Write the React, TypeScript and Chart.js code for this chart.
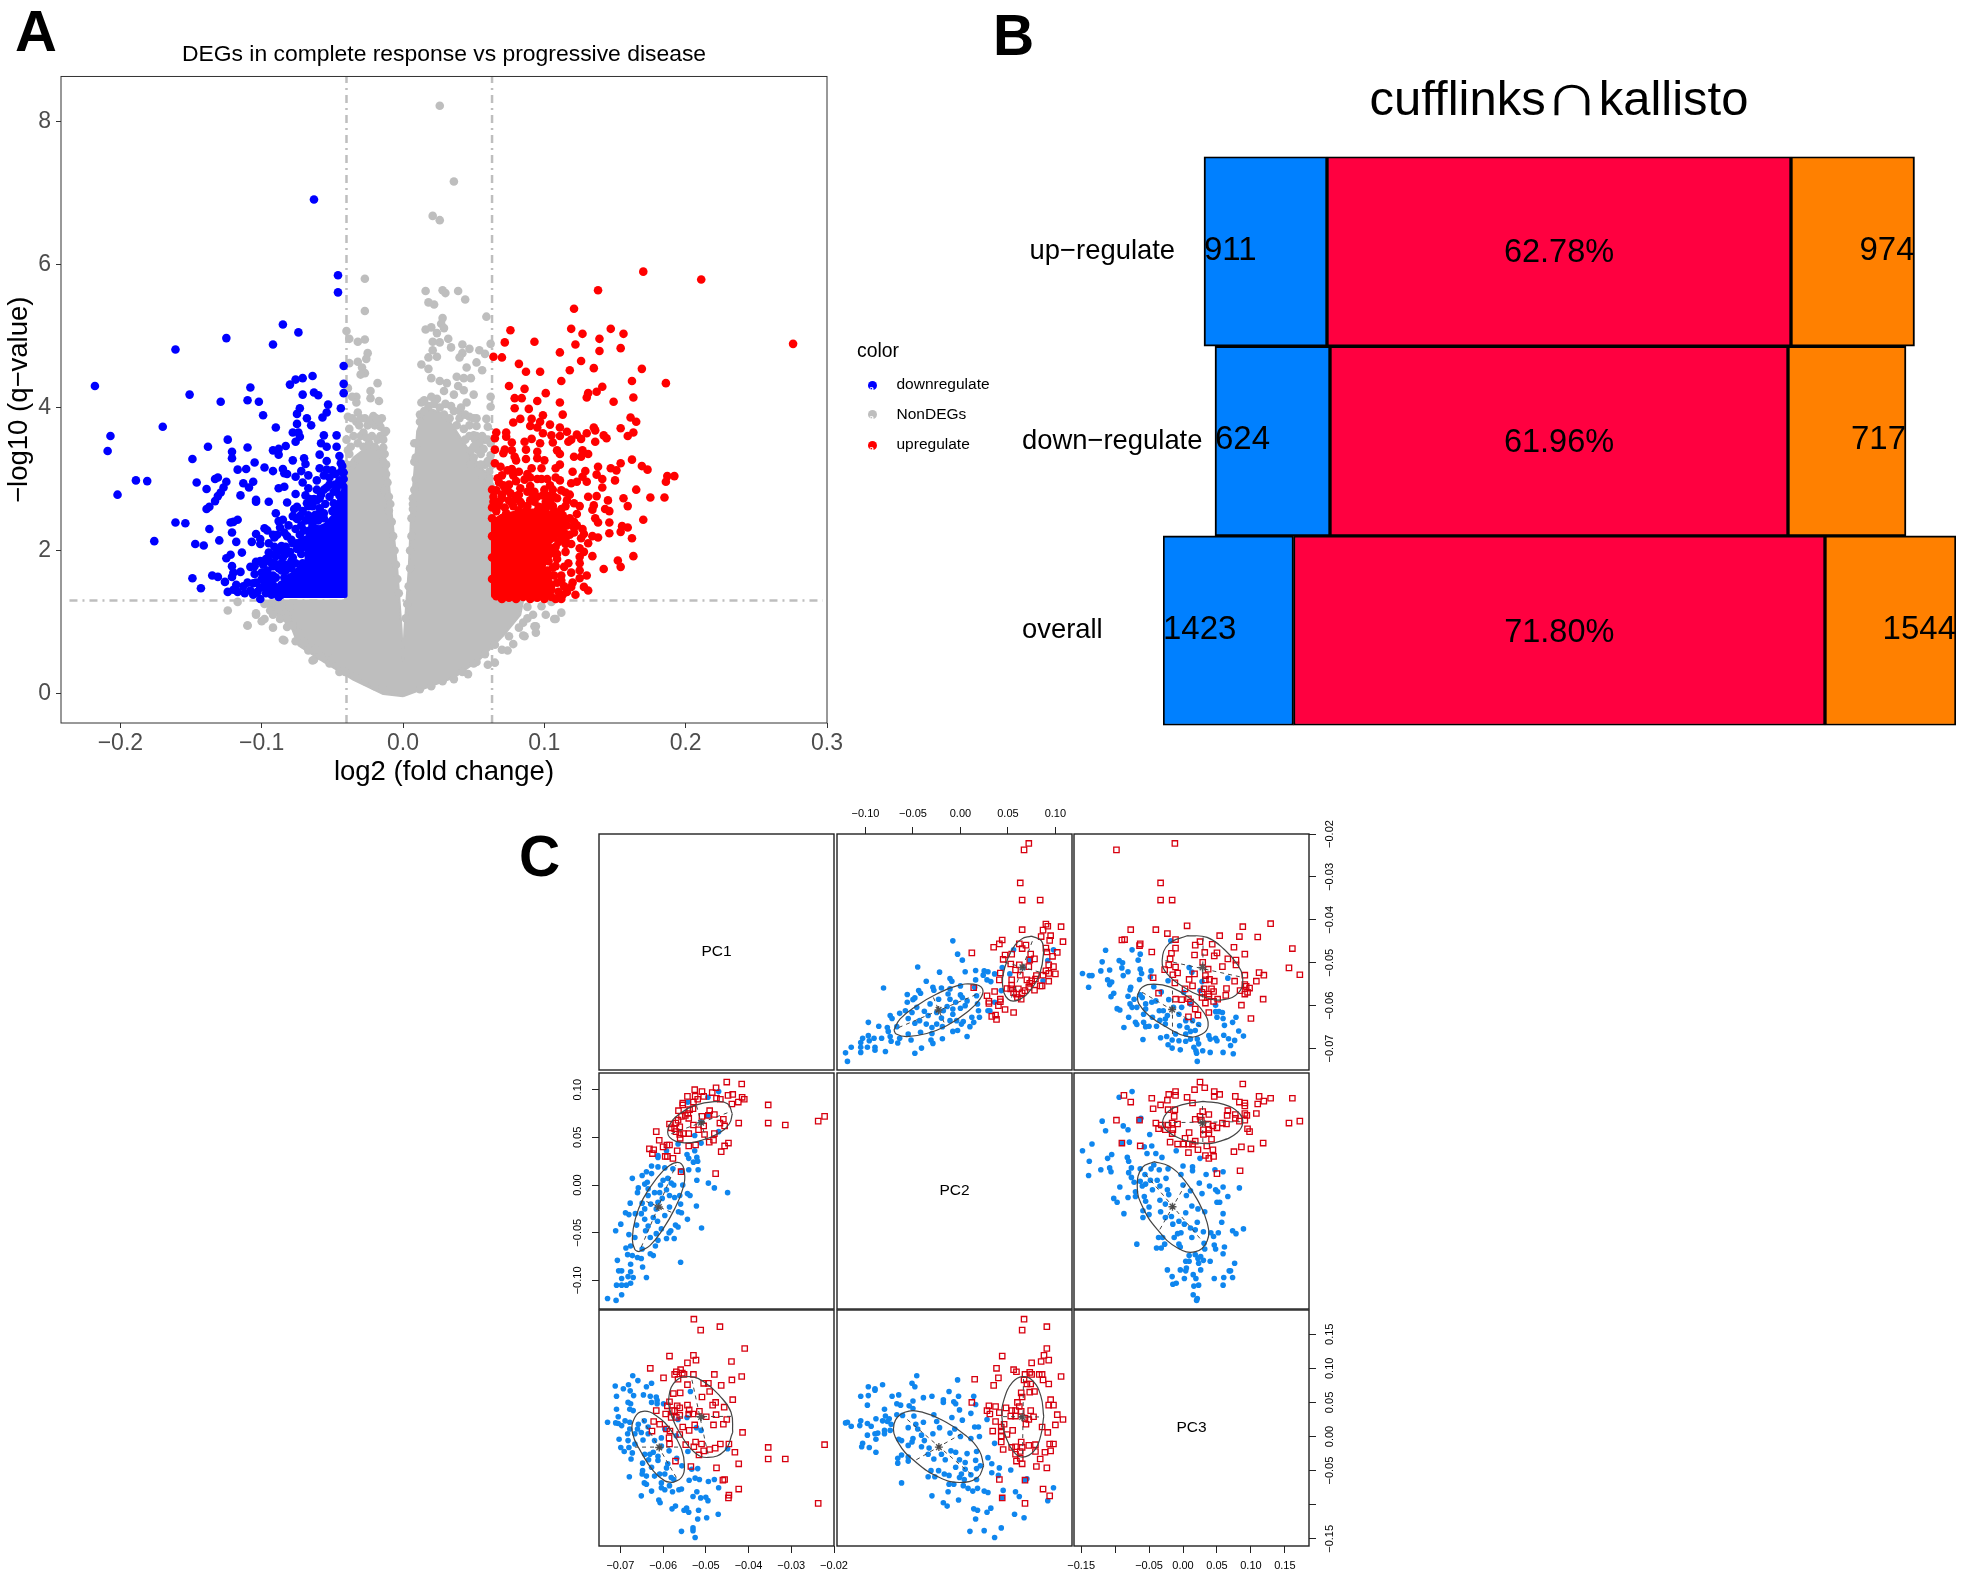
import React, { useEffect, useRef } from 'react';
import { Chart, registerables } from 'chart.js';

Chart.register(...registerables);

const FONT = '"Liberation Sans", Arial, sans-serif';

// ---- panel A: volcano plot, [log2 fold change, -log10 q] ----
const volcanoXTicks = [-0.2, -0.1, 0, 0.1, 0.2, 0.3];
const volcanoYTicks = [0, 2, 4, 6, 8];
const foldCutoffs = [-0.04, 0.063];
const qCutoff = 1.3;

const downregulated = [
  [-.046,5.85],[-.046,5.61],[-.063,6.91],[-.085,5.16],[-.074,5.05],[-.125,4.97],[-.092,4.88],[-.161,4.81],[-.042,4.58],[-.064,4.44],
  [-.071,4.41],[-.076,4.39],[-.080,4.32],[-.042,4.33],[-.218,4.30],[-.108,4.28],[-.151,4.18],[-.042,4.20],[-.071,4.18],[-.063,4.21],
  [-.060,4.17],[-.110,4.10],[-.102,4.08],[-.129,4.08],[-.053,4.04],[-.044,3.99],[-.073,3.99],[-.054,3.93],[-.075,3.91],[-.099,3.89],
  [-.057,3.86],[-.068,3.85],[-.065,3.75],[-.075,3.77],[-.170,3.73],[-.090,3.72],[-.078,3.65],[-.074,3.65],[-.056,3.61],[-.047,3.61],
  [-.207,3.60],[-.124,3.55],[-.073,3.59],[-.076,3.52],[-.058,3.50],[-.083,3.46],[-.138,3.45],[-.110,3.44],[-.054,3.45],[-.047,3.45],
  [-.088,3.42],[-.092,3.40],[-.209,3.39],[-.121,3.38],[-.088,3.34],[-.059,3.34],[-.045,3.32],[-.121,3.29],[-.149,3.28],[-.078,3.26],
  [-.070,3.29],[-.054,3.25],[-.105,3.23],[-.069,3.21],[-.044,3.22],[-.098,3.16],[-.117,3.13],[-.111,3.14],[-.059,3.15],[-.054,3.13],
  [-.092,3.11],[-.085,3.14],[-.072,3.11],[-.084,3.08],[-.082,3.07],[-.042,3.09],[-.067,3.05],[-.076,3.03],[-.048,3.07],[-.133,3.00],
  [-.131,3.02],[-.052,3.02],[-.189,2.98],[-.181,2.97],[-.146,2.95],[-.125,2.96],[-.106,2.96],[-.113,2.94],[-.061,2.98],[-.071,2.95],
  [-.045,2.98],[-.109,2.88],[-.088,2.87],[-.084,2.89],[-.127,2.88],[-.139,2.86],[-.067,2.87],[-.054,2.88],[-.129,2.81],[-.061,2.85],
  [-.202,2.78],[-.076,2.79],[-.069,2.77],[-.115,2.77],[-.131,2.76],[-.045,2.77],[-.059,2.73],[-.133,2.69],[-.104,2.71],[-.104,2.68],
  [-.095,2.68],[-.082,2.67],[-.068,2.66],[-.049,2.66],[-.137,2.61],[-.139,2.58],[-.075,2.61],[-.059,2.59],[-.090,2.52],[-.056,2.52],
  [-.067,2.49],[-.073,2.48],[-.078,2.48],[-.085,2.43],[-.075,2.44],[-.088,2.41],[-.117,2.43],[-.122,2.39],[-.120,2.40],[-.161,2.39],
  [-.154,2.38],[-.098,2.31],[-.137,2.30],[-.121,2.25],[-.104,2.23],[-.089,2.22],[-.101,2.16],[-.091,2.18],[-.130,2.14],[-.176,2.13],
  [-.118,2.12],[-.107,2.12],[-.147,2.09],[-.141,2.07],[-.101,2.09],[-.095,2.10],[-.086,2.06],[-.114,1.97],[-.122,1.94],[-.125,1.89],
  [-.095,1.97],[-.089,1.98],[-.080,1.98],[-.104,1.84],[-.099,1.80],[-.094,1.84],[-.121,1.78],[-.108,1.77],[-.115,1.70],[-.120,1.69],
  [-.105,1.67],[-.100,1.69],[-.135,1.65],[-.131,1.63],[-.149,1.61],[-.121,1.63],[-.092,1.65],[-.086,1.72],[-.126,1.56],[-.118,1.52],
  [-.106,1.54],[-.098,1.50],[-.143,1.47],[-.124,1.42],[-.120,1.45],[-.112,1.40],[-.108,1.44],[-.092,1.45],[-.101,1.32],[-.086,1.38],
  [-.080,1.42],[-.078,2.10],[-.073,2.22],[-.070,2.28],[-.078,1.90],[-.085,1.90],[-.082,1.80],[-.088,1.75],[-.090,1.62],[-.094,1.55],
  [-.096,1.45],[-.086,1.52],[-.080,1.62],[-.076,1.82],[-.072,1.95],[-.070,2.05],[-.064,2.35],[-.060,2.42],[-.056,2.45],[-.050,2.55],
  [-.046,2.62],[-.058,2.52],[-.062,2.50],[-.052,2.75],[-.047,2.86],[-.043,2.92],[-.049,2.82],[-.055,2.65],[-.042,3.00],[-.043,2.72],
  [-.064,2.62],[-.061,2.30],[-.082,1.45],[-.103,1.42],[-.097,1.40],[-.093,1.38],[-.088,1.35],[-.106,1.38],[-.100,1.60],[-.096,1.72],
  [-.090,1.92],[-.092,1.78],[-.084,1.62],[-.075,2.02],[-.069,2.15],[-.066,2.28],[-.082,2.20],[-.076,2.30],
  [-.091,2.05],[-.087,2.00],[-.083,1.95],[-.079,1.85],[-.083,2.05],[-.079,2.15],[-.084,2.25],[-.072,2.35],[-.069,2.42],[-.066,2.42],
  [-.063,2.45],[-.072,2.12],[-.067,2.05],[-.066,1.95],[-.071,1.82],[-.073,1.72],[-.078,1.62],[-.082,1.55],[-.088,1.48],[-.092,1.52],
  [-.096,1.62],[-.098,1.55],[-.101,1.48],[-.104,1.55],[-.110,1.55],[-.113,1.50],[-.117,1.42],[-.105,1.78],[-.101,1.85],[-.097,1.88],
  [-.094,1.95],[-.091,1.82],[-.086,1.82],[-.083,1.72],[-.079,1.75],[-.075,2.10],[-.067,2.62],[-.063,2.72],[-.058,2.78],[-.056,2.85],
  [-.052,2.92],[-.048,2.92],[-.044,3.10],[-.043,3.18],[-.050,3.12],[-.056,3.05],[-.061,2.70],[-.066,2.72],[-.071,2.55],[-.077,2.58],
  [-.081,2.35],[-.087,2.32],[-.092,2.22],[-.096,2.28],
];
const downregulatedMass = [
  [-.041,1.37],[-.090,1.37],[-.085,1.55],[-.075,1.72],[-.068,1.85],[-.067,2.25],[-.055,2.35],[-.048,2.5],[-.045,2.7],[-.041,2.9],[-.041,1.37],
];

const upregulated = [
  [.170,5.90],[.211,5.79],[.138,5.64],[.121,5.38],[.119,5.10],[.076,5.08],[.127,5.03],[.147,5.10],[.156,5.03],[.139,4.96],
  [.072,4.91],[.093,4.92],[.122,4.88],[.276,4.89],[.139,4.79],[.154,4.83],[.111,4.77],[.064,4.71],[.070,4.70],[.126,4.65],
  [.082,4.61],[.135,4.55],[.118,4.52],[.087,4.50],[.097,4.50],[.169,4.54],[.112,4.37],[.162,4.37],[.186,4.34],[.075,4.30],
  [.086,4.26],[.141,4.29],[.137,4.22],[.101,4.20],[.131,4.20],[.130,4.14],[.163,4.14],[.079,4.13],[.084,4.13],[.095,4.09],
  [.111,4.07],[.149,4.08],[.079,3.99],[.089,3.98],[.113,3.90],[.099,3.89],[.161,3.86],[.091,3.84],[.165,3.80],[.078,3.79],
  [.083,3.84],[.097,3.80],[.104,3.76],[.090,3.74],[.135,3.72],[.154,3.71],[.111,3.72],[.095,3.72],[.136,3.68],[.066,3.65],
  [.073,3.65],[.116,3.66],[.163,3.65],[.099,3.64],[.130,3.64],[.123,3.62],[.111,3.60],[.105,3.61],[.159,3.60],[.065,3.57],
  [.073,3.59],[.091,3.56],[.142,3.61],[.144,3.57],[.119,3.55],[.126,3.56],[.117,3.52],[.077,3.51],[.086,3.52],[.097,3.50],
  [.106,3.51],[.136,3.52],[.065,3.41],[.072,3.41],[.087,3.41],[.077,3.40],[.109,3.40],[.071,3.36],[.095,3.38],[.127,3.40],
  [.111,3.35],[.131,3.35],[.079,3.31],[.121,3.31],[.126,3.31],[.095,3.29],[.087,3.28],[.100,3.26],[.080,3.26],[.162,3.27],
  [.154,3.22],[.111,3.20],[.065,3.22],[.069,3.17],[.169,3.18],[.108,3.15],[.098,3.15],[.091,3.15],[.138,3.17],[.147,3.15],
  [.173,3.13],[.077,3.14],[.074,3.12],[.151,3.12],[.120,3.10],[.129,3.11],[.088,3.07],[.187,3.04],[.192,3.04],[.137,3.06],
  [.127,3.03],[.067,3.01],[.098,3.00],[.086,2.99],[.111,2.98],[.150,2.98],[.141,3.00],[.080,2.97],[.186,2.96],[.130,2.96],
  [.119,2.94],[.123,2.96],[.104,2.91],[.090,2.90],[.083,2.87],[.071,2.91],[.141,2.88],[.112,2.84],[.066,2.84],[.074,2.84],
  [.165,2.85],[.093,2.82],[.115,2.81],[.099,2.77],[.175,2.74],[.185,2.74],[.131,2.75],[.137,2.76],[.156,2.73],[.080,2.76],
  [.070,2.73],[.109,2.73],[.145,2.70],[.090,2.70],[.116,2.70],[.064,2.68],[.104,2.68],[.077,2.66],[.084,2.65],[.121,2.66],
  [.125,2.62],[.159,2.62],[.135,2.63],[.143,2.58],[.096,2.61],[.146,2.55],[.134,2.57],[.123,2.51],[.136,2.45],[.170,2.43],
  [.113,2.49],[.138,2.39],[.146,2.39],[.121,2.40],[.155,2.34],[.159,2.32],[.154,2.26],[.146,2.24],[.121,2.25],[.111,2.26],
  [.128,2.23],[.134,2.20],[.138,2.18],[.162,2.17],[.126,2.17],[.131,2.10],[.115,2.09],[.119,2.09],[.125,2.03],[.115,1.98],
  [.128,1.98],[.105,2.03],[.108,1.95],[.125,1.91],[.134,1.92],[.163,1.92],[.152,1.86],[.154,1.77],[.125,1.82],[.117,1.82],
  [.114,1.77],[.106,1.76],[.142,1.74],[.099,1.89],[.125,1.72],[.119,1.69],[.130,1.65],[.112,1.58],[.125,1.61],[.104,1.65],
  [.119,1.49],[.128,1.49],[.131,1.44],[.105,1.45],[.105,1.35],[.099,1.38],[.066,2.55],[.072,2.60],[.078,2.62],[.083,2.68],
  [.088,2.62],[.093,2.68],[.098,2.60],[.102,2.62],[.107,2.55],[.112,2.58],[.118,2.45],[.121,2.32],[.109,2.42],[.114,2.25],
  [.106,2.18],[.110,2.12],[.104,1.95],[.108,1.78],[.112,1.65],[.109,1.55],[.110,1.42],[.113,1.38],[.101,1.92],[.097,2.05],
  [.067,2.62],[.073,2.52],[.080,2.72],[.092,2.75],[.103,2.76],[.070,2.78],[.063,2.45],[.063,2.60],[.063,2.20],[.063,1.90],
  [.063,1.60],[.109,1.95],[.066,1.36],[.075,1.34],[.085,1.35],[.095,1.34],
  [.064,2.75],[.068,2.68],[.075,2.70],[.082,2.56],[.087,2.55],[.095,2.55],[.101,2.68],[.106,2.62],[.111,2.50],[.116,2.35],
  [.118,2.22],[.123,2.35],[.127,2.30],[.112,2.18],[.106,2.28],[.115,2.15],[.108,2.05],[.109,1.88],[.103,1.85],[.102,1.72],
  [.107,1.65],[.114,1.50],[.116,1.42],[.120,1.55],[.122,1.38],[.112,1.32],[.108,1.32],[.100,1.32],[.090,1.32],[.080,1.32],
  [.070,1.32],[.072,2.88],[.076,2.80],[.082,2.78],[.088,2.82],[.095,2.75],[.100,2.85],[.107,2.75],[.115,2.62],[.068,2.95],
  [.075,2.92],[.063,2.85],[.070,3.05],[.078,3.05],[.082,3.10],[.090,3.02],[.095,3.00],[.102,3.00],[.106,2.85],[.108,3.02],[.118,2.78],
];
const upregulatedMass = [
  [.064,1.37],[.104,1.37],[.106,1.5],[.099,1.75],[.103,2.1],[.113,2.3],[.115,2.45],[.100,2.55],[.085,2.55],[.070,2.48],[.064,2.40],[.064,1.37],
];

const nonDegs = [
  [.026,8.22],[.036,7.16],[.021,6.68],[.026,6.62],[-.027,5.80],[.016,5.63],[.028,5.64],[.030,5.60],[.039,5.63],[.044,5.51],
  [.018,5.47],[.022,5.44],[-.027,5.35],[.028,5.25],[.059,5.27],[.027,5.17],[.016,5.09],[-.040,5.07],[.020,5.12],[.029,5.11],
  [-.038,4.96],[-.032,4.92],[-.027,4.95],[.024,5.04],[.032,4.96],[.021,4.92],[.026,4.91],[.034,4.84],[.042,4.88],[.062,4.89],
  [.047,4.82],[.042,4.76],[.054,4.80],[.058,4.75],[-.025,4.76],[.021,4.80],[.024,4.71],[.018,4.70],[.040,4.70],[-.026,4.68],
  [-.032,4.64],[-.038,4.62],[.013,4.60],[.045,4.56],[.052,4.63],[.056,4.52],[-.029,4.56],[.018,4.54],[-.027,4.48],[-.030,4.46],
  [.020,4.41],[.038,4.43],[.043,4.41],[.048,4.41],[.026,4.37],[.031,4.34],[-.018,4.34],[-.039,4.27],[.039,4.30],[-.023,4.23],
  [.043,4.24],[.050,4.18],[.029,4.23],[-.033,4.15],[-.036,4.15],[-.023,4.13],[-.017,4.09],[.062,4.15],[.036,4.18],[.062,4.01],
  [-.033,4.07],[-.039,3.87],[.013,4.07],[.045,4.07],[.012,3.90],[.052,3.85],[.059,3.84],[-.015,3.85],[-.021,3.88],[-.032,3.93],
  [-.012,3.67],[.060,3.73],[.052,3.74],[.047,3.87],[.040,3.95],[-.016,3.73],[-.014,3.44],[.058,3.55],[.050,3.61],[-.014,3.24],
  [.062,3.33],[.053,3.41],[.008,3.24],[.061,3.10],[-.012,3.07],[.008,3.50],[-.010,2.56],[.007,2.58],[.007,2.73],[-.013,2.84],
  [-.110,.95],[-.104,1.12],[-.098,1.04],[-.092,.92],[-.085,.75],[-.076,.73],[-.063,.47],[-.067,.60],[.092,1.10],[.093,.94],
  [.101,1.10],[.108,1.04],[.086,.80],[.078,.69],[.070,.61],[.065,.43],[.060,.40],[.046,.27],[.052,.44],[.085,.99],
  [-.087,1.04],[-.082,.93],[-.100,1.01],[-.094,1.16],[-.080,1.21],[.088,1.21],[-.052,.42],[-.045,.30],[.036,.20],[.112,1.13],
  [.107,1.04],[.094,.94],[-.124,1.16],[-.110,.95],[-.117,1.28],[-.104,1.10],[-.084,.74],[-.064,.46],[.074,.60],[.094,.85],
  [.085,.81],
  [-.038,3.7],[-.035,3.6],[-.033,3.8],[-.030,3.85],[-.028,3.65],[-.025,3.75],[-.022,3.6],[-.020,3.75],[-.018,3.55],[-.016,3.6],
  [-.037,3.45],[-.032,3.5],[-.028,3.45],[-.024,3.5],[-.020,3.45],[-.013,3.35],[-.012,3.2],[-.011,2.95],[-.010,2.75],[-.009,2.65],
  [-.008,2.4],[-.007,2.2],[-.006,2.0],[-.005,1.8],[-.004,1.6],[-.003,1.4],[-.038,3.35],[-.034,3.25],
  [.012,3.8],[.015,3.95],[.018,4.02],[.022,4.05],[.026,4.0],[.029,3.9],[.033,3.85],[.036,3.95],[.040,3.85],[.043,3.7],
  [.047,3.6],[.044,3.9],[.050,3.45],[.055,3.35],[.058,3.2],[.061,3.0],[.056,3.05],[.059,2.9],[.048,3.2],[.052,3.6],
  [.056,3.6],[.010,3.5],[.009,3.3],[.009,3.0],[.008,2.85],[.007,2.65],[.006,2.45],[.006,2.2],[.005,2.0],[.005,1.75],
  [.004,1.5],[.003,1.25],[.002,1.05],
  [-.098,1.25],[-.092,1.1],[-.088,1.2],[-.082,1.05],[-.078,.95],[-.074,.85],[-.07,.72],[-.062,.62],[-.058,.52],[-.05,.48],
  [-.041,.30],[-.034,.24],[-.027,.17],[-.02,.10],[-.012,.04],[.012,.06],[.02,.1],[.028,.17],[.042,.3],[.05,.42],
  [.058,.55],[.065,.68],[.075,.8],[.082,.92],[.088,1.05],[.098,1.22],[.105,1.28],
  [.044,3.55],[.048,3.4],[.051,3.55],[.054,3.5],[.057,3.42],[.06,3.25],[.047,3.75],[.05,3.85],[.038,3.75],[.041,4.0],
  [.034,4.02],[.03,4.05],[.024,4.12],[.02,4.15],[.015,4.1],[.05,3.3],[.055,3.2],[.06,3.55],[.062,3.5],[.063,3.2],[.062,2.9],
  [-.036,3.85],[-.031,3.75],[-.027,3.85],[-.023,3.82],[-.019,3.85],[-.017,3.8],[-.013,3.65],[-.014,3.55],[-.03,3.6],[-.026,3.58],
  [-.04,3.55],[-.039,3.4],[-.036,3.2],[-.04,3.2],
];
const nonDegsMass = [
  [0,-.04],[.036,.22],[.054,.47],[.071,.81],[.083,1.10],[.085,1.30],[.062,1.30],[.062,3.0],[.050,3.3],[.040,3.6],
  [.030,3.9],[.017,4.0],[.010,3.67],[.008,3.10],[.006,2.64],[.004,1.73],[.001,.9],[0,.45],[-.001,.9],[-.004,1.73],
  [-.008,2.53],[-.011,3.15],[-.014,3.4],[-.022,3.5],[-.035,3.3],[-.041,3.0],[-.041,1.30],[-.101,1.30],[-.079,.93],[-.074,.67],
  [-.056,.44],[-.035,.19],[-.014,-.01],[0,-.04],
];

// ---- panel B: overlap bars, spans have no axis of their own ----
const overlapCategories = ['up−regulate', 'down−regulate', 'overall'];
const cufflinksOnly = [[-355.5, -232.5], [-344.5, -229.5], [-396.5, -266]];
const shared = [[-232.5, 231.5], [-229.5, 228.5], [-266, 265.5]];
const kallistoOnly = [[231.5, 355], [228.5, 346.5], [265.5, 396.5]];
const cufflinksCounts = ['911', '624', '1423'];
const kallistoCounts = ['974', '717', '1544'];
const sharedPercents = ['62.78%', '61.96%', '71.80%'];

// ---- panel C: PCA pairs ----
const pcNames = ['PC1', 'PC2', 'PC3'];
const pc1Ticks = [-0.07, -0.06, -0.05, -0.04, -0.03, -0.02];
const pc2Ticks = [-0.1, -0.05, 0, 0.05, 0.1];
const pc3Ticks = [-0.15, -0.1, -0.05, 0, 0.05, 0.1, 0.15];

// [PC2, PC1]
const pc2pc1Blue = [
  [-.008,-.0449],[-.003,-.0480],[.002,-.0494],[-.045,-.0510],[.005,-.0521],[.016,-.0518],[-.022,-.0522],[.025,-.0519],[.029,-.0521],[.036,-.0526],
  [.024,-.0529],[-.011,-.0537],[-.036,-.0543],[-.009,-.0543],[.016,-.0540],[.028,-.0540],[.032,-.0544],[-.081,-.0559],[-.044,-.0565],[-.029,-.0557],
  [-.020,-.0559],[-.011,-.0561],[0,-.0554],[.015,-.0557],[-.056,-.0574],[-.042,-.0571],[-.028,-.0564],[-.013,-.0573],[0,-.0575],[-.048,-.0582],
  [-.011,-.0585],[.002,-.0581],[.017,-.0577],[-.050,-.0586],[-.056,-.0592],[-.023,-.0585],[-.005,-.0592],[.007,-.0589],[.018,-.0596],[-.032,-.0596],
  [-.046,-.0604],[-.038,-.0613],[-.014,-.0602],[0,-.0606],[.029,-.0612],[.019,-.0612],[-.064,-.0618],[-.051,-.0616],[-.025,-.0616],[-.008,-.0620],
  [-.074,-.0623],[-.072,-.0630],[-.055,-.0630],[-.034,-.0623],[-.020,-.0629],[.012,-.0627],[.020,-.0627],[.003,-.0637],[-.097,-.0639],[-.048,-.0641],
  [-.036,-.0643],[-.011,-.0635],[.014,-.0639],[-.086,-.0648],[-.077,-.0651],[-.067,-.0649],[-.030,-.0651],[-.019,-.0649],[.010,-.0649],[-.008,-.0660],
  [-.003,-.0658],[-.076,-.0660],[-.042,-.0662],[-.055,-.0666],[-.030,-.0665],[.007,-.0672],[-.097,-.0670],[-.074,-.0672],[-.103,-.0676],[-.091,-.0676],
  [-.083,-.0676],[-.064,-.0676],[-.052,-.0680],[-.031,-.0680],[-.019,-.0677],[-.096,-.0682],[-.073,-.0683],[-.066,-.0687],[-.105,-.0686],[-.029,-.0688],
  [-.115,-.0697],[-.090,-.0697],[-.105,-.0697],[-.098,-.0697],[-.041,-.0699],[-.090,-.0704],[-.079,-.0707],[-.121,-.0710],[-.105,-.0709],[-.048,-.0711],
  [-.119,-.0730],[.044,-.0511],[.056,-.0470],[.098,-.0470],[.092,-.0495],[.073,-.0495],[.052,-.0526],[.066,-.0511],[.036,-.0592],[.031,-.0612],
  [.043,-.0565],[.087,-.0542],[-.018,-.0612],[-.008,-.0608],[.005,-.0600],[-.004,-.0635],[.001,-.0643],[-.025,-.0643],[-.043,-.0635],[-.058,-.0612],
];
const pc2pc1Red = [
  [.072,-.0222],[.067,-.0237],[.063,-.0314],[.065,-.0354],[.084,-.0354],[.065,-.0423],[.090,-.0410],[.092,-.0415],[.106,-.0416],[.087,-.0424],
  [.095,-.0437],[.085,-.0439],[.094,-.0448],[.108,-.0451],[.044,-.0447],[.041,-.0456],[.035,-.0464],[.062,-.0456],[.069,-.0459],[.065,-.0467],
  [.090,-.0466],[.012,-.0477],[.054,-.0480],[.047,-.0482],[.091,-.0475],[.102,-.0476],[.097,-.0485],[.074,-.0480],[.045,-.0492],[.078,-.0491],
  [.073,-.0494],[.053,-.0503],[.062,-.0505],[.072,-.0509],[.093,-.0505],[.098,-.0509],[.058,-.0517],[.090,-.0519],[.042,-.0524],[.063,-.0529],
  [.100,-.0526],[.093,-.0525],[.087,-.0529],[.080,-.0530],[.041,-.0540],[.054,-.0540],[.070,-.0540],[.075,-.0542],[.079,-.0538],[.093,-.0543],
  [.084,-.0554],[.086,-.0554],[.054,-.0552],[.073,-.0548],[.049,-.0560],[.053,-.0561],[.014,-.0558],[.061,-.0561],[.072,-.0557],[.078,-.0564],
  [.036,-.0567],[.028,-.0577],[.056,-.0570],[.059,-.0573],[.065,-.0570],[.068,-.0565],[.060,-.0581],[.064,-.0585],[.030,-.0590],[.042,-.0585],
  [.042,-.0591],[.030,-.0595],[.040,-.0600],[.047,-.0609],[.056,-.0616],[.033,-.0625],[.037,-.0622],[.038,-.0632],
];
const pc2pc1BlueEllipse = [
  [-.070,-.0657],[-.0635,-.0631],[-.046,-.0600],[-.025,-.0573],[-.004,-.0554],[.0135,-.0550],[.0233,-.0561],[.0205,-.0585],[.0065,-.0616],[-.0145,-.0647],[-.0355,-.0665],[-.0565,-.0672],[-.0677,-.0666],[-.070,-.0657],
];
const pc2pc1RedEllipse = [
  [.0748,-.0438],[.0853,-.0449],[.0874,-.0480],[.0835,-.0526],[.0748,-.0561],[.0618,-.0586],[.0503,-.0585],[.0443,-.0550],[.0468,-.0511],[.0538,-.0472],[.0643,-.0445],[.0748,-.0438],
];
const pc2pc1Axes = [
  [[-.065,-.0651],[.021,-.0570]],[[-.0285,-.0581],[-.0173,-.0639]],
  [[.0538,-.0581],[.0765,-.0445]],[[.0468,-.0499],[.0835,-.0522]],
];
const pc2pc1Centers = [[-.023,-.0610],[.0653,-.0511]];

// [PC3, PC1]
const pc3pc1Blue = [
  [-.114,-.0471],[-.075,-.0470],[-.063,-.0480],[-.066,-.0494],[-.119,-.0498],[-.094,-.0495],[-.089,-.0500],[-.090,-.0512],[-.063,-.0515],[-.121,-.0519],
  [-.108,-.0517],[-.081,-.0521],[-.148,-.0525],[-.138,-.0530],[-.134,-.0530],[-.088,-.0530],[-.061,-.0525],[-.047,-.0519],[-.111,-.0540],[-.105,-.0545],
  [-.108,-.0551],[-.064,-.0539],[-.048,-.0533],[-.139,-.0557],[-.077,-.0557],[-.078,-.0563],[-.043,-.0556],[-.022,-.0542],[-.102,-.0571],[-.106,-.0579],
  [-.081,-.0578],[-.032,-.0568],[-.018,-.0449],[.009,-.0511],[.013,-.0522],[.028,-.0544],[.066,-.0536],[-.063,-.0575],[-.072,-.0585],[-.040,-.0589],
  [-.021,-.0586],[-.060,-.0581],[-.078,-.0596],[-.055,-.0596],[-.046,-.0592],[.001,-.0569],[.025,-.0565],[-.097,-.0607],[-.093,-.0610],[-.075,-.0604],
  [-.068,-.0604],[-.055,-.0608],[-.035,-.0612],[-.029,-.0612],[-.014,-.0604],[-.002,-.0604],[.011,-.0596],[.048,-.0599],[-.058,-.0620],[-.080,-.0627],
  [-.045,-.0627],[-.023,-.0623],[-.006,-.0620],[.048,-.0614],[.053,-.0614],[.058,-.0616],[-.034,-.0634],[-.070,-.0639],[-.058,-.0639],[-.026,-.0631],
  [.004,-.0635],[.014,-.0635],[.050,-.0627],[.059,-.0630],[.078,-.0627],[-.068,-.0644],[-.050,-.0648],[-.039,-.0648],[-.026,-.0643],[-.005,-.0647],
  [.023,-.0644],[-.087,-.0651],[-.055,-.0649],[.006,-.0651],[.061,-.0646],[.073,-.0639],[.011,-.0660],[.018,-.0658],[.082,-.0659],[-.011,-.0666],
  [.004,-.0666],[.038,-.0670],[.060,-.0669],[-.059,-.0679],[-.033,-.0675],[-.024,-.0672],[-.016,-.0680],[-.006,-.0682],[.004,-.0683],[.011,-.0678],
  [.021,-.0678],[.040,-.0678],[.048,-.0676],[.050,-.0682],[.067,-.0677],[.076,-.0681],[.089,-.0671],[-.022,-.0691],[-.016,-.0699],[-.004,-.0703],
  [.016,-.0697],[.023,-.0689],[.070,-.0693],[.019,-.0705],[.029,-.0705],[.040,-.0709],[.059,-.0709],[.074,-.0712],[.020,-.0711],[.021,-.0730],
];
const pc3pc1Red = [
  [-.012,-.0222],[-.098,-.0237],[-.033,-.0314],[-.033,-.0354],[-.016,-.0354],[.129,-.0409],[.006,-.0414],[.088,-.0416],[-.077,-.0423],[-.040,-.0423],
  [-.023,-.0432],[.054,-.0437],[.083,-.0439],[.110,-.0440],[-.090,-.0447],[-.086,-.0446],[-.011,-.0446],[.025,-.0451],[-.063,-.0456],[-.064,-.0460],
  [.018,-.0459],[.043,-.0457],[.161,-.0467],[-.011,-.0466],[.075,-.0464],[-.046,-.0475],[-.017,-.0478],[.032,-.0476],[.050,-.0477],[.017,-.0482],
  [.046,-.0484],[.091,-.0480],[-.019,-.0491],[.066,-.0491],[.078,-.0494],[-.021,-.0505],[-.011,-.0510],[.029,-.0499],[.058,-.0509],[.078,-.0505],
  [.037,-.0515],[.156,-.0512],[-.027,-.0516],[.172,-.0528],[-.008,-.0524],[-.015,-.0528],[.017,-.0526],[.112,-.0523],[.119,-.0529],[.091,-.0529],
  [-.044,-.0535],[.033,-.0530],[.009,-.0539],[.033,-.0540],[.039,-.0539],[.046,-.0543],[.076,-.0543],[.108,-.0543],[-.012,-.0547],[.014,-.0554],
  [.091,-.0551],[.093,-.0555],[.098,-.0559],[.003,-.0561],[.064,-.0560],[-.036,-.0571],[.031,-.0561],[.042,-.0561],[.084,-.0565],[.095,-.0569],
  [.091,-.0573],[.028,-.0569],[.038,-.0573],[.045,-.0567],[.063,-.0576],[.028,-.0581],[.038,-.0579],[-.011,-.0585],[-.002,-.0586],[.008,-.0584],
  [.051,-.0585],[.118,-.0585],[.011,-.0592],[.033,-.0594],[.045,-.0590],[.086,-.0599],[.018,-.0608],[.038,-.0616],[.022,-.0622],[.008,-.0626],[.100,-.0630],
];
const pc3pc1BlueEllipse = [
  [-.0674,-.0577],[-.0601,-.0557],[-.0429,-.0550],[-.0184,-.0557],[.0086,-.0581],[.0306,-.0616],[.0370,-.0647],[.0282,-.0666],[.0061,-.0672],[-.0233,-.0651],[-.0503,-.0623],[-.0650,-.0596],[-.0674,-.0577],
];
const pc3pc1RedEllipse = [
  [.0061,-.0437],[.0355,-.0441],[.0600,-.0468],[.0796,-.0503],[.0879,-.0538],[.0821,-.0569],[.0600,-.0586],[.0331,-.0581],[.0012,-.0557],[-.0233,-.0526],[-.0307,-.0495],[-.0209,-.0456],[.0061,-.0437],
];
const pc3pc1Axes = [
  [[-.0601,-.0569],[.0282,-.0651]],[[-.0155,-.0565],[-.0155,-.0666]],
  [[-.0258,-.0495],[.0845,-.0533]],[[.0296,-.0441],[.0287,-.0581]],
];
const pc3pc1Centers = [[-.016,-.0609],[.0287,-.0511]];

// [PC3, PC2]
const pc3pc2Blue = [
  [-.075,.098],[-.094,.092],[-.062,.070],[-.119,.067],[-.064,.068],[-.088,.062],[-.081,.058],[-.114,.057],[-.049,.053],[-.134,.043],
  [-.090,.044],[-.079,.045],[-.057,.040],[-.046,.041],[-.148,.036],[-.010,.036],[-.105,.032],[-.111,.028],[-.082,.029],[-.053,.033],
  [-.040,.033],[-.031,.029],[.025,.028],[-.138,.025],[-.080,.025],[-.043,.021],[-.076,.018],[0,.020],[.014,.019],[-.121,.016],
  [-.108,.018],[-.106,.014],[-.063,.017],[-.047,.017],[-.035,.016],[-.022,.017],[.014,.015],[.047,.016],[.059,.014],[-.139,.010],
  [-.080,.013],[-.056,.011],[-.003,.011],[.034,.011],[-.076,.008],[-.025,.007],[-.072,.003],[-.048,.005],[-.038,.005],[-.063,.004],
  [-.060,-.001],[-.093,-.002],[-.055,.001],[0,0],[.024,.002],[.039,-.001],[.059,-.002],[.083,-.003],[-.045,-.005],[-.034,-.001],
  [-.023,-.005],[.048,-.005],[.051,-.007],[-.070,-.007],[.005,-.011],[.011,-.006],[.028,-.009],[.066,-.012],[-.102,-.014],[-.081,-.013],
  [-.070,-.012],[-.057,-.012],[-.021,-.010],[-.097,-.018],[-.034,-.016],[-.055,-.017],[.050,-.018],[.054,-.018],[-.026,-.020],[-.050,-.023],
  [.013,-.022],[.022,-.025],[-.087,-.030],[-.059,-.027],[-.033,-.028],[.004,-.029],[.032,-.028],[.059,-.030],[-.059,-.034],[-.050,-.031],
  [-.026,-.034],[-.017,-.033],[-.006,-.038],[.021,-.039],[.057,-.039],[-.015,-.041],[.002,-.041],[.011,-.045],[.089,-.046],[.018,-.047],
  [.073,-.048],[.052,-.050],[.078,-.051],[-.003,-.050],[.030,-.049],[-.008,-.051],[.041,-.050],[-.036,-.055],[-.030,-.055],[-.013,-.055],
  [.013,-.055],[.045,-.054],[-.068,-.062],[-.027,-.062],[-.006,-.062],[.031,-.061],[.046,-.063],[.061,-.065],[-.039,-.066],[-.032,-.066],
  [-.004,-.065],[.032,-.067],[.048,-.067],[.059,-.072],[.009,-.074],[.018,-.073],[.026,-.075],[.022,-.077],[.030,-.079],[.040,-.080],
  [.004,-.080],[.009,-.080],[.076,-.082],[.023,-.082],[.005,-.087],[-.023,-.089],[-.004,-.089],[.026,-.089],[.004,-.090],[.068,-.090],
  [.070,-.090],[.015,-.094],[-.016,-.096],[.046,-.098],[.060,-.097],[.073,-.097],[.002,-.098],[.019,-.098],[-.015,-.104],[-.010,-.103],
  [.023,-.105],[.016,-.106],[.059,-.105],[.015,-.115],[.021,-.119],[.020,-.121],
];
const pc3pc2Red = [
  [.025,.108],[.088,.106],[.032,.102],[.017,.100],[-.011,.098],[.046,.098],[-.087,.094],[-.021,.095],[-.011,.094],[.046,.093],
  [.054,.095],[.077,.093],[.006,.092],[-.046,.091],[.112,.093],[.129,.091],[.161,.091],[-.077,.087],[-.023,.089],[.119,.088],
  [.083,.087],[.014,.086],[.091,.086],[.110,.085],[-.033,.084],[.091,.083],[-.044,.080],[-.022,.079],[-.012,.079],[.066,.078],
  [.029,.077],[.038,.074],[.108,.075],[.091,.075],[.065,.073],[.077,.074],[.094,.073],[-.013,.072],[.025,.072],[.018,.069],
  [.027,.068],[.077,.070],[-.098,.068],[-.064,.068],[.083,.067],[.091,.068],[.156,.065],[.172,.067],[.058,.065],[-.040,.065],
  [-.016,.065],[.064,.064],[-.032,.063],[-.008,.064],[-.022,.063],[.037,.064],[.044,.062],[.050,.060],[-.036,.059],[-.026,.058],
  [-.015,.058],[.030,.058],[.038,.058],[.095,.059],[.098,.056],[.009,.055],[-.016,.054],[.030,.053],[.038,.054],[.003,.049],
  [.042,.048],[-.019,.045],[.018,.046],[-.090,.044],[.118,.044],[-.008,.043],[.001,.043],[.008,.043],[.014,.043],[-.063,.041],
  [.035,.041],[.086,.040],[.022,.037],[.100,.038],[.044,.037],[.075,.035],[.008,.034],[.033,.031],[.045,.030],[.038,.028],
  [.050,.012],[.084,.015],
];
const pc3pc2BlueEllipse = [
  [-.0429,.0245],[-.0601,.0182],[-.0674,-.0011],[-.0601,-.0220],[-.0380,-.0465],[-.0086,-.0657],[.0184,-.0699],[.0355,-.0587],[.0355,-.0395],[.0208,-.0150],[.0012,.0059],[-.0208,.0199],[-.0429,.0245],
];
const pc3pc2RedEllipse = [
  [.0296,.0877],[.0600,.0846],[.0821,.0758],[.0879,.0654],[.0796,.0549],[.0551,.0461],[.0287,.0437],[-.0037,.0486],[-.0233,.0566],[-.0302,.0654],[-.0209,.0776],[.0012,.0846],[.0296,.0877],
];
const pc3pc2Axes = [
  [[-.0552,.0112],[.0282,-.0587]],[[-.0341,-.0465],[.0037,.0007]],
  [[-.0258,.0654],[.0845,.0664]],[[.0287,.0828],[.0292,.0444]],
];
const pc3pc2Centers = [[-.0155,-.0227],[.0287,.0650]];

const pcRanges = [[-0.075, -0.02], [-0.13, 0.1175], [-0.1605, 0.1855]];
const pcTicks = [pc1Ticks, pc2Ticks, pc3Ticks];
const unlabelledTicks = [[], [], [-0.1]];

// upper triangle key is `${row}${col}`, stored as [PCcol, PCrow]
const clouds: any = {
  '01': { blue: pc2pc1Blue, red: pc2pc1Red, ellipses: [pc2pc1BlueEllipse, pc2pc1RedEllipse], axes: pc2pc1Axes, centers: pc2pc1Centers },
  '02': { blue: pc3pc1Blue, red: pc3pc1Red, ellipses: [pc3pc1BlueEllipse, pc3pc1RedEllipse], axes: pc3pc1Axes, centers: pc3pc1Centers },
  '12': { blue: pc3pc2Blue, red: pc3pc2Red, ellipses: [pc3pc2BlueEllipse, pc3pc2RedEllipse], axes: pc3pc2Axes, centers: pc3pc2Centers },
};

const colLefts = [598.5, 836.5, 1074];
const rowTops = [833.5, 1072.5, 1310];
const CELL_W = 235;
const CELL_H = 236;
const MARGIN = 45;

const fmt = (v: number, digits: number) => (v < 0 ? '−' : '') + Math.abs(v).toFixed(digits);
const toXY = (pairs: number[][]) => pairs.map(([x, y]) => ({ x, y }));
const toYX = (pairs: number[][]) => pairs.map(([y, x]) => ({ x, y }));

const framePlugin = {
  id: 'frame',
  afterDatasetsDraw(chart: any, _args: any, opts: any) {
    const { ctx, chartArea: a } = chart;
    ctx.save();
    ctx.strokeStyle = opts.color || '#333';
    ctx.lineWidth = opts.width || 1;
    ctx.strokeRect(a.left, a.top, a.right - a.left, a.bottom - a.top);
    ctx.restore();
  },
};

const cellLabelPlugin = {
  id: 'cellLabel',
  afterDraw(chart: any, _args: any, opts: any) {
    if (!opts.text) return;
    const { ctx, chartArea: a } = chart;
    ctx.save();
    ctx.font = `15.5px ${FONT}`;
    ctx.fillStyle = '#000';
    ctx.textAlign = 'center';
    ctx.textBaseline = 'middle';
    ctx.fillText(opts.text, (a.left + a.right) / 2, (a.top + a.bottom) / 2);
    ctx.restore();
  },
};

const barTextPlugin = {
  id: 'barText',
  afterDatasetsDraw(chart: any) {
    const { ctx, scales } = chart;
    ctx.save();
    ctx.fillStyle = '#000';
    ctx.textBaseline = 'middle';
    overlapCategories.forEach((_c, i) => {
      const y = scales.y.getPixelForValue(i);
      ctx.font = `33px ${FONT}`;
      ctx.textAlign = 'left';
      ctx.fillText(cufflinksCounts[i], scales.x.getPixelForValue(cufflinksOnly[i][0]), y - 1);
      ctx.textAlign = 'right';
      ctx.fillText(kallistoCounts[i], scales.x.getPixelForValue(kallistoOnly[i][1]), y - 1);
      ctx.font = `32.5px ${FONT}`;
      ctx.textAlign = 'center';
      ctx.fillText(sharedPercents[i], scales.x.getPixelForValue(shared[i][0] + (shared[i][1] - shared[i][0]) / 2), y + 2);
    });
    ctx.restore();
  },
};

function ChartCanvas({ left, top, width, height, config }: any) {
  const ref = useRef<HTMLCanvasElement>(null);
  useEffect(() => {
    if (!ref.current) return;
    const chart = new Chart(ref.current, config);
    return () => chart.destroy();
  }, [config]);
  return <canvas ref={ref} width={width} height={height} style={{ position: 'absolute', left, top, width, height }} />;
}

const lineSet = (data: any[], color: string, extra: any = {}) => ({
  data,
  showLine: true,
  pointRadius: 0,
  borderColor: color,
  borderWidth: 1.2,
  ...extra,
});

const cutoffStyle = { borderWidth: 2.5, borderDash: [8, 5, 2, 5] };

const volcanoConfig: any = {
  type: 'scatter',
  data: {
    datasets: [
      { data: toXY(upregulated), backgroundColor: '#ff0000', pointRadius: 4.3, borderWidth: 0 },
      { data: toXY(downregulated), backgroundColor: '#0000ff', pointRadius: 4.3, borderWidth: 0 },
      lineSet(toXY(upregulatedMass), '#ff0000', { fill: 'shape', backgroundColor: '#ff0000', borderWidth: 5, borderJoinStyle: 'round' }),
      lineSet(toXY(downregulatedMass), '#0000ff', { fill: 'shape', backgroundColor: '#0000ff', borderWidth: 5, borderJoinStyle: 'round' }),
      { data: toXY(nonDegs), backgroundColor: '#bebebe', pointRadius: 4.3, borderWidth: 0 },
      lineSet(toXY(nonDegsMass), '#bebebe', { fill: 'shape', backgroundColor: '#bebebe', borderWidth: 2, borderJoinStyle: 'round' }),
      lineSet([{ x: foldCutoffs[0], y: -0.414 }, { x: foldCutoffs[0], y: 8.63 }], '#bebebe', cutoffStyle),
      lineSet([{ x: foldCutoffs[1], y: -0.414 }, { x: foldCutoffs[1], y: 8.63 }], '#bebebe', cutoffStyle),
      lineSet([{ x: -0.236, y: qCutoff }, { x: 0.297, y: qCutoff }], '#bebebe', cutoffStyle),
    ],
  },
  options: {
    animation: false,
    responsive: false,
    layout: { padding: { right: 61 } },
    plugins: {
      legend: { display: false },
      tooltip: { enabled: false },
      frame: { color: '#333', width: 1 },
      title: {
        display: true,
        text: 'DEGs in complete response vs progressive disease',
        color: '#000',
        fullSize: false,
        font: { family: FONT, size: 22.9, weight: 'normal' },
        padding: { top: 41, bottom: 8 },
      },
    },
    scales: {
      x: {
        type: 'linear',
        min: -0.242,
        max: 0.3,
        afterBuildTicks: (s: any) => { s.ticks = volcanoXTicks.map((value) => ({ value })); },
        afterFit: (s: any) => { s.height = 77; },
        grid: { drawOnChartArea: false, tickLength: 5, color: '#333' },
        border: { display: false },
        ticks: { autoSkip: false, maxRotation: 0, padding: 2, color: '#4d4d4d', font: { family: FONT, size: 23 }, callback: (v: any) => fmt(v, 1) },
        title: { display: true, text: 'log2 (fold change)', color: '#000', font: { family: FONT, size: 27.5 }, padding: { top: 0, bottom: 11 } },
      },
      y: {
        type: 'linear',
        min: -0.414,
        max: 8.63,
        afterBuildTicks: (s: any) => { s.ticks = volcanoYTicks.map((value) => ({ value })); },
        afterFit: (s: any) => { s.width = 61; },
        grid: { drawOnChartArea: false, tickLength: 5, color: '#333' },
        border: { display: false },
        ticks: { autoSkip: false, padding: 5, color: '#4d4d4d', font: { family: FONT, size: 23 }, callback: (v: any) => String(v) },
        title: { display: true, text: '−log10 (q−value)', color: '#000', font: { family: FONT, size: 27.5 }, padding: { top: 2.5, bottom: 0 } },
      },
    },
  },
  plugins: [framePlugin],
};

const barSet = (data: number[][], color: string) => ({
  data,
  backgroundColor: color,
  borderColor: '#000',
  borderWidth: 2,
  borderSkipped: false,
  grouped: false,
  barPercentage: 1,
  categoryPercentage: 1,
});

const overlapConfig: any = {
  type: 'bar',
  data: {
    labels: overlapCategories,
    datasets: [barSet(cufflinksOnly, '#0080ff'), barSet(shared, '#ff0040'), barSet(kallistoOnly, '#ff8000')],
  },
  options: {
    indexAxis: 'y',
    animation: false,
    responsive: false,
    layout: { padding: { left: 22, right: 9, top: 156.6, bottom: 34.5 } },
    plugins: {
      legend: { display: false },
      tooltip: { enabled: false },
    },
    scales: {
      x: { display: false, type: 'linear', min: -396.5, max: 396.5 },
      y: {
        type: 'category',
        afterFit: (s: any) => { s.width = 141; },
        grid: { display: false },
        border: { display: false },
        ticks: {
          // labels are wider than the axis box, mirror stops them being clipped
          mirror: true,
          padding: -141,
          color: '#000',
          font: { family: FONT, size: 27.4 },
          // the first label starts a little to the right of the other two
          callback: (_v: any, i: number) => (i === 0 ? ' ' : '') + overlapCategories[i],
        },
      },
    },
  },
  plugins: [barTextPlugin],
};

function pairAxis(pc: number, side: string | null) {
  const [min, max] = pcRanges[pc];
  const horizontal = side === 'top' || side === 'bottom';
  return {
    type: 'linear',
    display: side !== null,
    position: side || undefined,
    min,
    max,
    afterBuildTicks: (s: any) => { s.ticks = pcTicks[pc].map((value) => ({ value })); },
    afterFit: (s: any) => {
      if (!side) return;
      if (horizontal) s.height = MARGIN;
      else s.width = MARGIN;
    },
    grid: { drawOnChartArea: false, tickLength: 7, color: '#222' },
    border: { display: false },
    ticks: {
      autoSkip: false,
      minRotation: horizontal ? 0 : 90,
      maxRotation: horizontal ? 0 : 90,
      crossAlign: horizontal ? 'near' : 'center',
      padding: horizontal ? 6 : 0,
      color: '#000',
      font: { family: FONT, size: 11 },
      callback: (v: any) => (unlabelledTicks[pc].includes(v) ? '' : fmt(v, 2)),
    },
  };
}

function pairConfig(row: number, col: number) {
  const datasets: any[] = [];
  if (row !== col) {
    const flip = row > col;
    const cloud = clouds[flip ? `${col}${row}` : `${row}${col}`];
    const conv = flip ? toYX : toXY;
    cloud.axes.forEach((seg: number[][]) => {
      datasets.push(lineSet(conv(seg), '#444', { borderWidth: 1, borderDash: [4, 4] }));
    });
    datasets.push({ data: conv(cloud.centers), pointStyle: 'star', pointRadius: 4, borderColor: '#555', borderWidth: 1.4, backgroundColor: '#555' });
    cloud.ellipses.forEach((e: number[][]) => {
      datasets.push(lineSet(conv(e), '#444', { tension: 0.45 }));
    });
    datasets.push({ data: conv(cloud.red), pointStyle: 'rect', pointRadius: 3.8, backgroundColor: 'transparent', borderColor: '#d7000f', borderWidth: 1.3 });
    datasets.push({ data: conv(cloud.blue), pointRadius: 2.8, backgroundColor: '#0f86ee', borderWidth: 0 });
  }
  const xSide = row === 0 && col === 1 ? 'top' : row === 2 && col !== 1 ? 'bottom' : null;
  const ySide = col === 0 && row === 1 ? 'left' : col === 2 && row !== 1 ? 'right' : null;
  return {
    type: 'scatter',
    data: { datasets },
    options: {
      animation: false,
      responsive: false,
      layout: {
        padding: {
          left: ySide === 'left' ? 0 : MARGIN,
          right: ySide === 'right' ? 0 : MARGIN,
          top: xSide === 'top' ? 0 : MARGIN,
          bottom: xSide === 'bottom' ? 0 : MARGIN,
        },
      },
      plugins: {
        legend: { display: false },
        tooltip: { enabled: false },
        frame: { color: '#222', width: 1.4 },
        cellLabel: { text: row === col ? pcNames[row] : '' },
      },
      scales: { x: pairAxis(col, xSide), y: pairAxis(row, ySide) },
    },
    plugins: [framePlugin, cellLabelPlugin],
  };
}

const pairCells = [0, 1, 2].flatMap((row) => [0, 1, 2].map((col) => ({ row, col, config: pairConfig(row, col) })));

const legendItems = [
  { label: 'downregulate', color: '#0000ff', top: 384 },
  { label: 'NonDEGs', color: '#bebebe', top: 413.5 },
  { label: 'upregulate', color: '#ff0000', top: 444 },
];

const text = (left: number, top: number, size: number, extra: any = {}) => ({
  position: 'absolute' as const,
  left,
  top,
  fontSize: size,
  lineHeight: 1,
  fontFamily: FONT,
  whiteSpace: 'nowrap' as const,
  ...extra,
});

export default function App() {
  return (
    <div style={{ position: 'absolute', left: 0, top: 0, width: 1965, height: 1578, overflow: 'hidden', background: '#fff' }}>
      <ChartCanvas left={0} top={0} width={888} height={800} config={volcanoConfig} />
      <ChartCanvas left={1000} top={0} width={965} height={760} config={overlapConfig} />
      {pairCells.map(({ row, col, config }) => (
        <ChartCanvas
          key={`${row}${col}`}
          left={colLefts[col] - MARGIN}
          top={rowTops[row] - MARGIN}
          width={CELL_W + 2 * MARGIN}
          height={CELL_H + 2 * MARGIN}
          config={config}
        />
      ))}
      <div style={text(15, 2, 58, { fontWeight: 'bold' })}>A</div>
      <div style={text(993, 7, 57, { fontWeight: 'bold' })}>B</div>
      <div style={text(519, 828, 57, { fontWeight: 'bold' })}>C</div>
      <div style={text(1559, 74, 49, { transform: 'translateX(-50%)' })}>
        cufflinks
        <span style={{ display: 'inline-block', width: 53, lineHeight: 0, textAlign: 'center', fontSize: 60, transform: 'scaleX(1.3)' }}>∩</span>
        kallisto
      </div>
      <div style={text(857, 341, 19.4)}>color</div>
      {legendItems.map((item) => (
        <React.Fragment key={item.label}>
          <div style={{ position: 'absolute', left: 867.5, top: item.top - 3.5, width: 9, height: 9, borderRadius: '50%', background: item.color }} />
          <div style={text(869, item.top + 0.5, 9, { color: '#fff', fontWeight: 'bold' })}>a</div>
          <div style={text(896.5, item.top - 8, 15.5)}>{item.label}</div>
        </React.Fragment>
      ))}
    </div>
  );
}
